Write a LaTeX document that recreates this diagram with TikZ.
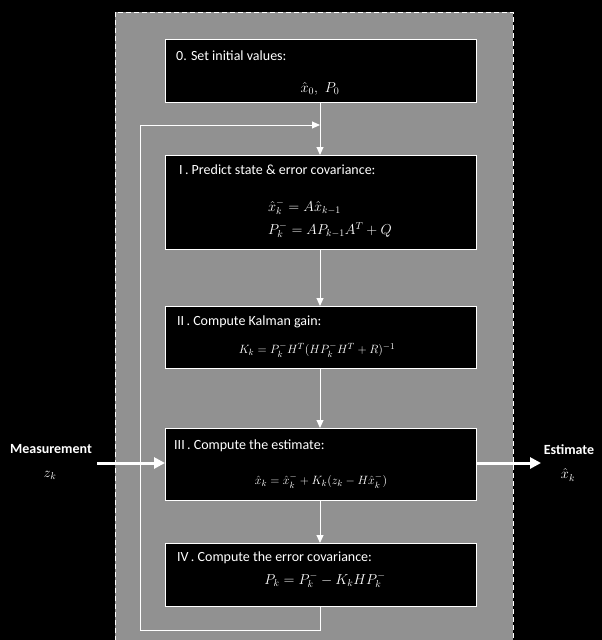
\documentclass[tikz,border=0pt]{standalone}
\usepackage{fontspec}
\setsansfont{Carlito}
\usetikzlibrary{arrows.meta}
\definecolor{panelgray}{RGB}{145,145,145}
\tikzset{
  stepbox/.style={draw=white,line width=1.2pt,fill=black,minimum width=311pt,inner sep=0pt,anchor=north west,rectangle},
  titletxt/.style={text=white,font=\sffamily\fontsize{14}{16}\selectfont,anchor=west,inner sep=0pt},
  mathtxt/.style={text=white,font=\fontsize{14}{17}\selectfont,inner sep=0pt,align=center},
  smallmath/.style={mathtxt,font=\fontsize{13}{16}\selectfont},
  flow/.style={draw=white,line width=1pt,-{Triangle[width=7pt,length=8pt]}},
  flowline/.style={draw=white,line width=1pt},
  bigflow/.style={draw=white,line width=3pt,-{Triangle[width=11pt,length=11pt]}},
  sidetxt/.style={text=white,font=\sffamily\bfseries\fontsize{14}{16}\selectfont,inner sep=0pt},
}
\begin{document}
\begin{tikzpicture}[x=1pt,y=-1pt]
\useasboundingbox (0,0) rectangle (602,640);
\fill[black] (0,0) rectangle (602,640);
\draw[white,dash pattern=on 5pt off 3pt,line width=0.8pt,fill=panelgray] (115,12) rectangle (513,642);

\node[stepbox,minimum height=63pt] (b0) at (165,39) {};
\node[stepbox,minimum height=94pt] (b1) at (165,155) {};
\node[stepbox,minimum height=62pt] (b2) at (165,306) {};
\node[stepbox,minimum height=72pt] (b3) at (165,428) {};
\node[stepbox,minimum height=63pt] (b4) at (165,543) {};

\node[titletxt] (t0) at (176,56) {0. Set initial values:};
\node[mathtxt] (m0) at (320,89) {$\hat{x}_0,\ P_0$};

\node[titletxt] (t1) at (179,170) {I\,. Predict state \& error covariance:};
\node[mathtxt,align=left,anchor=west] (m1a) at (268,207) {$\hat{x}_k^- = A\hat{x}_{k-1}$};
\node[mathtxt,align=left,anchor=west] (m1b) at (268,230) {$P_k^- = AP_{k-1}A^T + Q$};

\node[titletxt] (t2) at (177,322) {II\,. Compute Kalman gain:};
\node[smallmath] (m2) at (317,350) {$K_k = P_k^- H^T (HP_k^- H^T + R)^{-1}$};

\node[titletxt] (t3) at (174,446) {III\,. Compute the estimate:};
\node[smallmath] (m3) at (321,481) {$\hat{x}_k = \hat{x}_k^- + K_k(z_k - H\hat{x}_k^-)$};

\node[titletxt] (t4) at (177,558) {IV\,. Compute the error covariance:};
\node[mathtxt] (m4) at (325,580) {$P_k = P_k^- - K_k H P_k^-$};

\coordinate (merge) at (320,125);
\coordinate (lb) at (140,630);
\coordinate (lt) at (140,125);
\coordinate (rb) at (320,630);

\draw[flowline] (b0.south -| merge) -- (merge);
\draw[flow] (merge) -- (b1.north -| merge);
\draw[flow] (b1.south -| merge) -- (b2.north -| merge);
\draw[flow] (b2.south -| merge) -- (b3.north -| merge);
\draw[flow] (b3.south -| merge) -- (b4.north -| merge);
\draw[flow] (b4.south -| merge) -- (rb) -- (lb) -- (lt) -- (merge);

\node[sidetxt] (meas) at (51,449) {Measurement};
\node[mathtxt] (zk) at (50,475) {$z_k$};
\node[sidetxt] (est) at (569,450) {Estimate};
\node[mathtxt] (xk) at (568,475) {$\hat{x}_k$};
\coordinate (min) at (97,463);
\coordinate (eout) at (541,463);
\draw[bigflow] (min) -- (b3.west |- min);
\draw[bigflow] (b3.east |- eout) -- (eout);
\end{tikzpicture}
\end{document}
